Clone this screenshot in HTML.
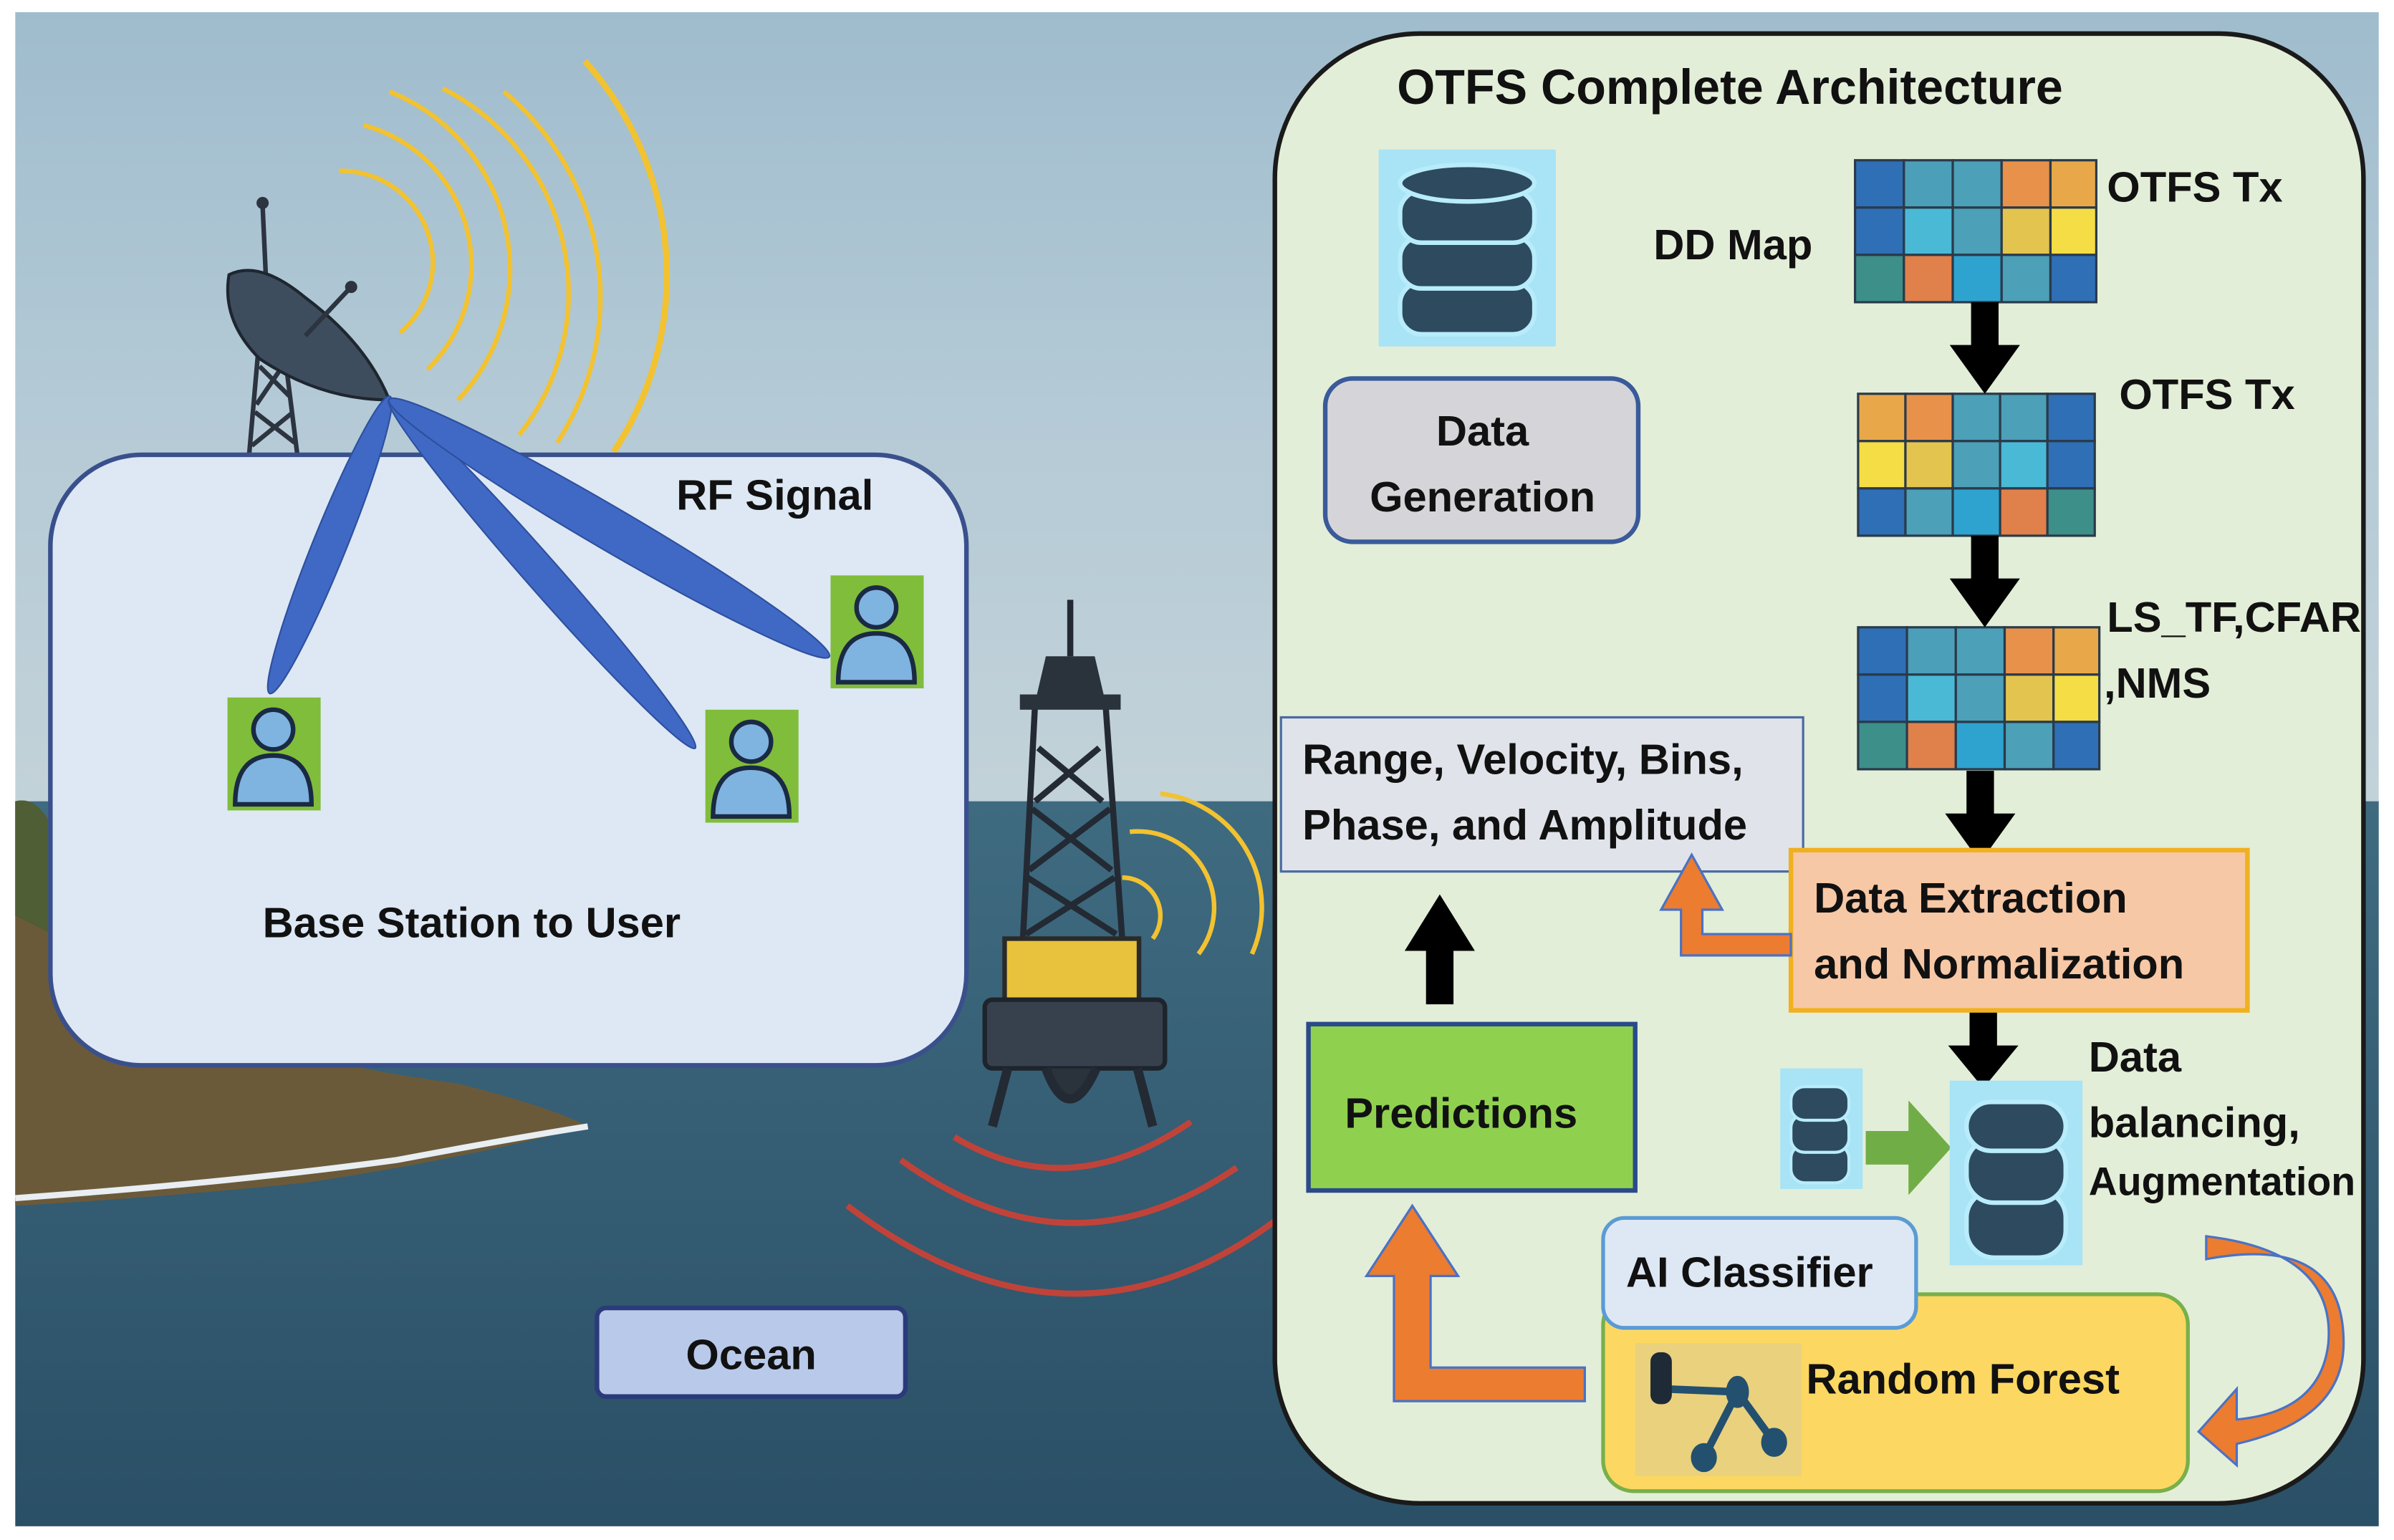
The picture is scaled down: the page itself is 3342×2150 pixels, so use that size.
<!DOCTYPE html>
<html><head><meta charset="utf-8"><style>
html,body{margin:0;padding:0;background:#fff;}
svg{display:block;}
text{font-family:"Liberation Sans","DejaVu Sans",sans-serif;font-weight:bold;fill:#111;}
</style></head><body>
<svg width="3342" height="2150" viewBox="0 0 1568 1009" preserveAspectRatio="none" xmlns="http://www.w3.org/2000/svg">
<defs>
<linearGradient id="sky" x1="0" y1="0" x2="0" y2="1">
<stop offset="0" stop-color="#9fbccd"/><stop offset="0.5" stop-color="#b4cad6"/><stop offset="1" stop-color="#c3d2d9"/></linearGradient>
<linearGradient id="sea" x1="0" y1="0" x2="0" y2="1">
<stop offset="0" stop-color="#3f6b80"/><stop offset="1" stop-color="#2a4f66"/></linearGradient>
<g id="db">
<ellipse cx="0" cy="0" rx="1" ry="0.28" fill="#2d4a5e"/>
</g>
</defs>
<rect x="0" y="0" width="1568" height="1009" fill="#fff"/>
<rect x="10" y="8" width="1548" height="520" fill="url(#sky)"/>
<rect x="10" y="525" width="1548" height="475" fill="url(#sea)"/>
<!-- island -->
<path d="M10,525 Q30,520 40,560 L60,640 Q150,690 300,710 Q360,725 385,738 Q300,760 200,775 Q100,785 10,790 Z" fill="#6b5a3a"/>
<path d="M10,525 Q30,520 40,560 L50,620 Q30,610 10,600 Z" fill="#4f5e34"/>
<path d="M10,785 Q150,775 260,760 Q340,745 385,738" stroke="#e8eef2" stroke-width="4" fill="none"/>
<!-- yellow arcs left -->
<g fill="none" stroke="#f2c230" stroke-width="3">
<path d="M222,112 A60,60 0 0 1 262,218"/>
<path d="M238,82 A95,95 0 0 1 280,242"/>
<path d="M255,60 A125,125 0 0 1 300,262"/>
<path d="M290,58 A150,150 0 0 1 340,285"/>
<path d="M330,60 A175,175 0 0 1 365,290"/>
<path d="M383,40 A210,210 0 0 1 402,296" stroke-width="4"/>
</g>
<!-- antenna tower -->
<g stroke="#2c3440" stroke-width="3" fill="none">
<line x1="172" y1="135" x2="175" y2="200"/>
<path d="M163,300 L170,220 L185,220 L195,300 M170,240 L190,260 M185,240 L168,265 M167,270 L193,290 M192,270 L165,292"/>
</g>
<circle cx="172" cy="133" r="4" fill="#2c3440"/>
<path d="M150,180 Q170,170 200,195 Q240,225 255,262 Q210,262 170,235 Q145,210 150,180Z" fill="#3e4d5e" stroke="#1e2630" stroke-width="2"/>
<line x1="200" y1="220" x2="230" y2="188" stroke="#2c3440" stroke-width="3"/>
<circle cx="230" cy="188" r="4" fill="#2c3440"/>
<!-- left box -->
<rect x="33" y="298" width="600" height="400" rx="60" fill="#dde8f4" stroke="#3a508c" stroke-width="3"/>
<!-- beams -->
<g fill="#3f69c4" stroke="#2f4f9e" stroke-width="1">
<ellipse cx="216" cy="357" rx="105" ry="11" transform="rotate(112 216 357)"/>
<ellipse cx="355" cy="376" rx="152" ry="11" transform="rotate(48.7 355 376)"/>
<ellipse cx="399" cy="346" rx="167" ry="14" transform="rotate(30.3 399 346)"/>
</g>
<text x="443" y="334" font-size="28">RF Signal</text>
<text x="172" y="614" font-size="28">Base Station to User</text>
<!-- users -->
<g id="u1">
<rect x="149" y="457" width="61" height="74" fill="#80bd3a"/>
<circle cx="179" cy="478" r="13" fill="#7fb3e0" stroke="#1a2a44" stroke-width="3"/>
<path d="M154,527 Q154,495 179,495 Q204,495 204,527Z" fill="#7fb3e0" stroke="#1a2a44" stroke-width="3"/>
</g>
<use href="#u1" transform="translate(313,8)"/>
<use href="#u1" transform="translate(395,-80)"/>
<!-- buoy -->
<g stroke="#232a33" stroke-width="4" fill="none">
<line x1="701" y1="393" x2="701" y2="430"/>
<path d="M678,460 L670,615 M724,460 L735,615 M680,490 L722,525 M720,490 L678,525 M676,530 L728,570 M727,530 L674,570 M673,575 L731,612 M730,575 L672,612"/>
</g>
<path d="M685,430 L717,430 L724,460 L678,460Z" fill="#2a323c"/>
<rect x="668" y="455" width="66" height="10" fill="#2a323c"/>
<rect x="658" y="615" width="88" height="42" fill="#e8c23c" stroke="#2a2a2a" stroke-width="3"/>
<rect x="645" y="655" width="118" height="45" rx="5" fill="#37414e" stroke="#1e242c" stroke-width="3"/>
<path d="M660,700 L650,738 M745,700 L755,738 M685,700 Q700,740 718,700" stroke="#232a33" stroke-width="6" fill="#2a323c"/>
<g fill="none" stroke="#f2c230" stroke-width="3">
<path d="M735,575 A25,25 0 0 1 755,615"/>
<path d="M740,545 A50,50 0 0 1 785,625"/>
<path d="M760,520 A75,75 0 0 1 820,625"/>
</g>
<g fill="none" stroke="#c0433a" stroke-width="4">
<path d="M625,745 Q700,790 780,735"/>
<path d="M590,760 Q700,840 810,765"/>
<path d="M555,790 Q700,900 835,800"/>
</g>
<rect x="391" y="857" width="202" height="58" rx="6" fill="#b9c9ea" stroke="#2a3a7a" stroke-width="3"/>
<text x="492" y="897" font-size="28" text-anchor="middle">Ocean</text>
<!-- right panel -->
<rect x="835" y="22" width="713" height="963" rx="95" fill="#e3eed8" stroke="#1a1a1a" stroke-width="3"/>
<text x="915" y="68" font-size="32">OTFS Complete Architecture</text>
<!-- big db -->
<rect x="903" y="98" width="116" height="129" fill="#a8e3f6"/>
<g fill="#2d4a5e" stroke="#b8ecfb" stroke-width="3">
<rect x="917" y="185" width="88" height="34" rx="14"/>
<rect x="917" y="155" width="88" height="34" rx="14"/>
<rect x="917" y="125" width="88" height="34" rx="14"/>
<ellipse cx="961" cy="120" rx="44" ry="12"/>
</g>
<rect x="868" y="248" width="205" height="107" rx="18" fill="#d5d5d9" stroke="#3a5a9a" stroke-width="3"/>
<text x="971" y="292" font-size="28" text-anchor="middle">Data</text>
<text x="971" y="335" font-size="28" text-anchor="middle">Generation</text>
<text x="1083" y="170" font-size="28">DD Map</text>
<text x="1380" y="132" font-size="28">OTFS Tx</text>
<text x="1388" y="268" font-size="28">OTFS Tx</text>
<text x="1380" y="414" font-size="28">LS_TF,CFAR</text>
<text x="1378" y="457" font-size="28">,NMS</text>
<!-- grids -->
<g stroke="#2a3a4a" stroke-width="1.5">
<g transform="translate(1215,105)">
<rect x="0" y="0" width="32" height="31" fill="#2f6fb5"/><rect x="32" y="0" width="32" height="31" fill="#4c9fb8"/><rect x="64" y="0" width="32" height="31" fill="#4ca0b8"/><rect x="96" y="0" width="32" height="31" fill="#e8914a"/><rect x="128" y="0" width="30" height="31" fill="#e8a84a"/>
<rect x="0" y="31" width="32" height="31" fill="#2f6fb5"/><rect x="32" y="31" width="32" height="31" fill="#4ab9d6"/><rect x="64" y="31" width="32" height="31" fill="#4ca0b8"/><rect x="96" y="31" width="32" height="31" fill="#e3c44e"/><rect x="128" y="31" width="30" height="31" fill="#f5dd46"/>
<rect x="0" y="62" width="32" height="31" fill="#3d8f8a"/><rect x="32" y="62" width="32" height="31" fill="#e0804a"/><rect x="64" y="62" width="32" height="31" fill="#2fa3cf"/><rect x="96" y="62" width="32" height="31" fill="#4ca0b8"/><rect x="128" y="62" width="30" height="31" fill="#2f6fb5"/>
</g>
<g transform="translate(1217,258)">
<rect x="0" y="0" width="31" height="31" fill="#e8a84a"/><rect x="31" y="0" width="31" height="31" fill="#e8914a"/><rect x="62" y="0" width="31" height="31" fill="#4ca0b8"/><rect x="93" y="0" width="31" height="31" fill="#4ca0b8"/><rect x="124" y="0" width="31" height="31" fill="#2f6fb5"/>
<rect x="0" y="31" width="31" height="31" fill="#f5dd46"/><rect x="31" y="31" width="31" height="31" fill="#e3c44e"/><rect x="62" y="31" width="31" height="31" fill="#4ca0b8"/><rect x="93" y="31" width="31" height="31" fill="#4ab9d6"/><rect x="124" y="31" width="31" height="31" fill="#2f6fb5"/>
<rect x="0" y="62" width="31" height="31" fill="#2f6fb5"/><rect x="31" y="62" width="31" height="31" fill="#4ca0b8"/><rect x="62" y="62" width="31" height="31" fill="#2fa3cf"/><rect x="93" y="62" width="31" height="31" fill="#e0804a"/><rect x="124" y="62" width="31" height="31" fill="#3d8f8a"/>
</g>
<g transform="translate(1217,411)">
<rect x="0" y="0" width="32" height="31" fill="#2f6fb5"/><rect x="32" y="0" width="32" height="31" fill="#4c9fb8"/><rect x="64" y="0" width="32" height="31" fill="#4ca0b8"/><rect x="96" y="0" width="32" height="31" fill="#e8914a"/><rect x="128" y="0" width="30" height="31" fill="#e8a84a"/>
<rect x="0" y="31" width="32" height="31" fill="#2f6fb5"/><rect x="32" y="31" width="32" height="31" fill="#4ab9d6"/><rect x="64" y="31" width="32" height="31" fill="#4ca0b8"/><rect x="96" y="31" width="32" height="31" fill="#e3c44e"/><rect x="128" y="31" width="30" height="31" fill="#f5dd46"/>
<rect x="0" y="62" width="32" height="31" fill="#3d8f8a"/><rect x="32" y="62" width="32" height="31" fill="#e0804a"/><rect x="64" y="62" width="32" height="31" fill="#2fa3cf"/><rect x="96" y="62" width="32" height="31" fill="#4ca0b8"/><rect x="128" y="62" width="30" height="31" fill="#2f6fb5"/>
</g>
</g>
<!-- black arrows -->
<g fill="#000">
<path d="M1291,198 h18 v28 h14 l-23,32 l-23,-32 h14z"/>
<path d="M1291,351 h18 v28 h14 l-23,32 l-23,-32 h14z"/>
<path d="M1288,505 h18 v28 h14 l-23,32 l-23,-32 h14z"/>
<path d="M1290,663 h18 v22 h14 l-23,28 l-23,-28 h14z"/>
<path d="M934,658 h18 v-35 h14 l-23,-37 l-23,37 h14z"/>
</g>
<rect x="839" y="470" width="342" height="101" fill="#e0e4ea" stroke="#4a6aa0" stroke-width="1.5"/>
<text x="853" y="507" font-size="28">Range, Velocity, Bins,</text>
<text x="853" y="550" font-size="28">Phase, and Amplitude</text>
<rect x="1173" y="557" width="299" height="105" fill="#f7c8a6" stroke="#f0b020" stroke-width="3"/>
<text x="1188" y="598" font-size="28">Data Extraction</text>
<text x="1188" y="641" font-size="28">and Normalization</text>
<!-- small orange arrow -->
<path d="M1173,626 h-72 v-30 h-13 l20,-36 l20,36 h-13 v16 h58z" fill="#ec7c30" stroke="#4a72c4" stroke-width="1.5"/>
<rect x="857" y="671" width="214" height="109" fill="#8fd14f" stroke="#2a4a8a" stroke-width="3"/>
<text x="957" y="739" font-size="28" text-anchor="middle">Predictions</text>
<!-- small dbs -->
<rect x="1166" y="700" width="54" height="79" fill="#a8e3f6"/>
<g fill="#2d4a5e" stroke="#b8ecfb" stroke-width="2">
<rect x="1173" y="750" width="38" height="25" rx="9"/>
<rect x="1173" y="730" width="38" height="25" rx="9"/>
<rect x="1173" y="712" width="38" height="22" rx="9"/>
</g>
<path d="M1222,741 h28 v-20 l28,31 l-28,31 v-20 h-28z" fill="#70ad47"/>
<rect x="1277" y="708" width="87" height="121" fill="#a8e3f6"/>
<g fill="#2d4a5e" stroke="#b8ecfb" stroke-width="3">
<rect x="1288" y="780" width="65" height="44" rx="18"/>
<rect x="1288" y="746" width="65" height="42" rx="18"/>
<rect x="1288" y="722" width="65" height="32" rx="16"/>
</g>
<text x="1368" y="702" font-size="28">Data</text>
<text x="1368" y="745" font-size="28">balancing,</text>
<text x="1368" y="783" font-size="26">Augmentation</text>
<!-- random forest -->
<rect x="1050" y="848" width="383" height="129" rx="20" fill="#fcd862" stroke="#78b04a" stroke-width="2.5"/>
<rect x="1071" y="880" width="109" height="87" fill="#ead17e"/>
<g stroke="#23506e" stroke-width="5" fill="#23506e">
<line x1="1090" y1="910" x2="1138" y2="912"/><line x1="1138" y1="912" x2="1116" y2="955"/><line x1="1138" y1="912" x2="1162" y2="945"/>
<ellipse cx="1138" cy="912" rx="5" ry="8"/><ellipse cx="1116" cy="955" rx="6" ry="7"/><ellipse cx="1162" cy="945" rx="6" ry="7"/>
</g>
<rect x="1081" y="886" width="14" height="34" rx="6" fill="#1e2a36"/>
<text x="1183" y="913" font-size="28">Random Forest</text>
<rect x="1050" y="798" width="205" height="72" rx="14" fill="#dde8f4" stroke="#5b9bd5" stroke-width="2.5"/>
<text x="1065" y="843" font-size="28">AI Classifier</text>
<!-- big orange elbow -->
<path d="M1038,918 h-125 v-82 h-18 l30,-46 l30,46 h-18 v60 h101z" fill="#ec7c30" stroke="#4a72c4" stroke-width="1.5"/>
<!-- curved arrow -->
<path d="M1445,810 Q1530,820 1525,880 Q1520,925 1465,930 l0,-20 l-25,28 l25,22 l0,-14 Q1535,930 1535,880 Q1535,808 1445,825z" fill="#ec7c30" stroke="#4a72c4" stroke-width="1.5"/>
</svg>
</body></html>
